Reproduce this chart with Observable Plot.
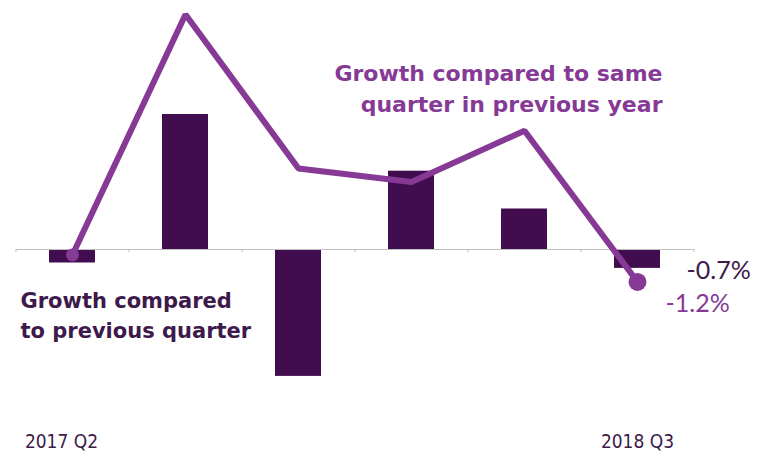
<!DOCTYPE html>
<html><head><meta charset="utf-8">
<script src="https://cdn.jsdelivr.net/npm/d3@7"></script>
<script src="https://cdn.jsdelivr.net/npm/@observablehq/plot@0.6"></script>
<style>body{margin:0;background:#fff}#c{width:757px;height:461px}</style>
</head><body><div id="c"></div>
<script>
const quarters = ["2017 Q2","2017 Q3","2017 Q4","2018 Q1","2018 Q2","2018 Q3"];
const qoq = [-0.5, 5.0, -4.7, 2.9, 1.5, -0.7];
const yoy = [-0.2, 8.7, 3.0, 2.5, 4.4, -1.2];
const shownTicks = ["2017 Q2","2018 Q3"];
const labelQoq = "-0.7%";
const labelYoy = "-1.2%";
const noteYoy = "Growth compared to same\nquarter in previous year";
const noteQoq = "Growth compared\nto previous quarter";

const rows = quarters.map((q,i)=>({q, qoq: qoq[i], yoy: yoy[i]}));
const last = rows[rows.length-1], first = rows[0];
const dark = "#420d4f", light = "#863a96";
const tickStyle = {x: "q", text: "q", frameAnchor: "bottom", dy: 47, fill: "#3d1a4b", fontSize: 19, fontFamily: "DejaVu Sans Condensed"};

const chart = Plot.plot({
  width: 757, height: 461,
  marginLeft: 16, marginRight: 63, marginTop: 0, marginBottom: 61,
  x: {domain: quarters, paddingInner: 0.59, paddingOuter: 0.295, axis: null},
  y: {domain: [-5.593, 9.222], axis: null},
  marks: [
    Plot.barY(rows, {x: "q", y: "qoq", fill: dark}),
    Plot.ruleY([0], {stroke: "#c0c0c0", strokeWidth: 1.2}),
    Plot.ruleX(rows, {x: "q", dx: -56.5, y1: 0, y2: -0.12, stroke: "#c0c0c0"}),
    Plot.ruleX([last], {x: "q", dx: 56.5, y1: 0, y2: -0.12, stroke: "#c0c0c0"}),
    Plot.line(rows, {x: "q", y: "yoy", stroke: light, strokeWidth: 6, strokeLinejoin: "miter"}),
    Plot.dot([first], {x: "q", y: "yoy", r: 6.5, fill: light}),
    Plot.dot([last], {x: "q", y: "yoy", r: 9, fill: light}),
    Plot.text([last], {x: "q", y: "qoq", text: () => labelQoq, dx: 49, dy: 3, textAnchor: "start", fill: "#3d1a4b", fontSize: 25, fontFamily: "Lato"}),
    Plot.text([last], {x: "q", y: "yoy", text: () => labelYoy, dx: 28, dy: 22, textAnchor: "start", fill: light, fontSize: 25, fontFamily: "Lato"}),
    Plot.text(rows.filter(d => d.q === shownTicks[0]), {...tickStyle, dx: -11}),
    Plot.text(rows.filter(d => d.q === shownTicks[1]), tickStyle),
    Plot.text([noteYoy], {text: d => d, frameAnchor: "top-left", dx: 646, dy: 86, textAnchor: "end", lineAnchor: "middle", lineHeight: 1.4, fill: light, fontSize: 22, fontWeight: "bold", fontFamily: "DejaVu Sans"}),
    Plot.text([noteQoq], {text: d => d, frameAnchor: "top-left", dx: 4, dy: 313, textAnchor: "start", lineAnchor: "middle", lineHeight: 1.45, fill: "#3d1a4b", fontSize: 21, fontWeight: "bold", fontFamily: "DejaVu Sans"})
  ]
});
document.getElementById("c").append(chart);
</script></body></html>
